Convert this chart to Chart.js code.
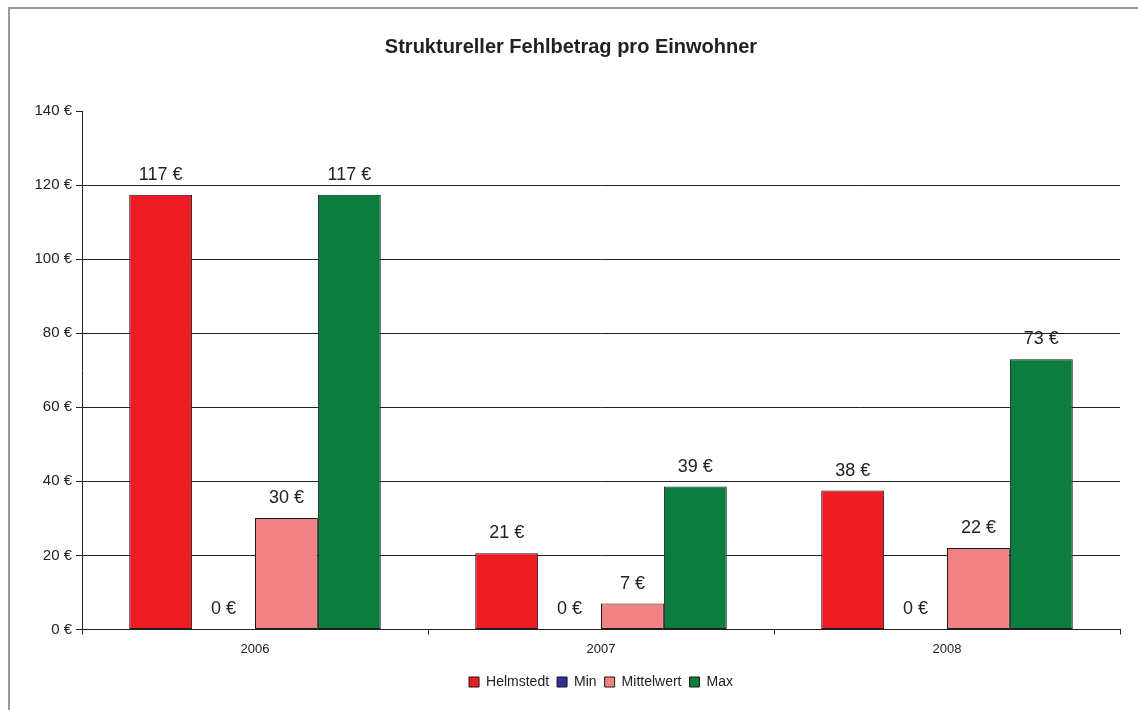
<!DOCTYPE html>
<html>
<head>
<meta charset="utf-8">
<script src="https://cdn.jsdelivr.net/npm/chart.js@4.4.1/dist/chart.umd.min.js"></script>
<style>
html,body{margin:0;padding:0;background:#fff;}
#wrap{position:relative;width:1138px;height:710px;}
#bt{position:absolute;left:8px;top:7px;width:1130px;height:2px;background:#9a9a9a;}
#bl{position:absolute;left:8px;top:7px;width:2px;height:703px;background:#9a9a9a;}
canvas{position:absolute;left:0;top:0;}
</style>
</head>
<body>
<div id="wrap">
<canvas id="c" width="1138" height="710"></canvas>
<div id="bt"></div><div id="bl"></div>
</div>
<script>
const categories = ['2006', '2007', '2008'];
const helmstedt = [117.4, 20.6, 37.5];
const minVals = [0, 0, 0];
const mittelwert = [30.1, 7.0, 22.0];
const maxVals = [117.4, 38.6, 73.0];
const yTicks = [0, 20, 40, 60, 80, 100, 120, 140];

const FONT = "'Liberation Sans', Arial, sans-serif";

const labelPlugin = {
  id: 'barLabels',
  afterDatasetsDraw(chart) {
    const ctx = chart.ctx;
    ctx.save();
    ctx.font = '18px ' + FONT;
    ctx.fillStyle = '#222';
    ctx.textAlign = 'center';
    ctx.textBaseline = 'middle';
    chart.data.datasets.forEach((ds, di) => {
      const meta = chart.getDatasetMeta(di);
      meta.data.forEach((bar, i) => {
        ctx.fillText(Math.round(ds.data[i]) + ' €', bar.x, bar.y - 20);
      });
    });
    ctx.restore();
  }
};

new Chart(document.getElementById('c'), {
  type: 'bar',
  data: {
    labels: categories,
    datasets: [
      { label: 'Helmstedt', data: helmstedt, backgroundColor: '#ED1C24', borderColor: '#1a1a1a', borderWidth: 1, borderSkipped: false },
      { label: 'Min', data: minVals, backgroundColor: '#2E3192', borderColor: '#1a1a1a', borderWidth: 1, borderSkipped: false },
      { label: 'Mittelwert', data: mittelwert, backgroundColor: '#F08284', borderColor: '#1a1a1a', borderWidth: 1, borderSkipped: false },
      { label: 'Max', data: maxVals, backgroundColor: '#0B7D3E', borderColor: '#1a1a1a', borderWidth: 1, borderSkipped: false }
    ]
  },
  options: {
    responsive: false,
    animation: false,
    layout: { padding: { left: 22, right: 18, top: 0, bottom: 11 } },
    categoryPercentage: 0.727,
    barPercentage: 1.0,
    plugins: {
      title: {
        display: true,
        text: 'Struktureller Fehlbetrag pro Einwohner',
        color: '#222',
        font: { family: FONT, size: 20, weight: 'bold' },
        padding: { top: 35, bottom: 52 }
      },
      legend: {
        position: 'bottom',
        fullSize: false,
        labels: {
          color: '#222',
          font: { family: FONT, size: 14 },
          boxWidth: 10,
          boxHeight: 10,
          padding: 8
        }
      },
      tooltip: { enabled: false }
    },
    scales: {
      x: {
        afterFit: s => { s.height = 37.5; },
        grid: { drawOnChartArea: false, drawTicks: true, tickLength: 5, color: '#222', offset: true },
        border: { color: '#222', width: 1 },
        ticks: { color: '#222', font: { family: FONT, size: 13 }, padding: 7 }
      },
      y: {
        min: 0,
        max: 140,
        afterFit: s => { s.width = 60; },
        afterBuildTicks: s => { s.ticks = yTicks.map(v => ({ value: v })); },
        grid: {
          color: c => (c.tick && c.tick.value === 140) ? 'rgba(0,0,0,0)' : '#222',
          tickColor: '#222',
          tickLength: 6,
          lineWidth: 1
        },
        border: { color: '#222', width: 1 },
        ticks: { color: '#222', font: { family: FONT, size: 15 }, padding: 4, callback: v => v + ' €' }
      }
    }
  },
  plugins: [labelPlugin]
});
</script>
</body>
</html>
